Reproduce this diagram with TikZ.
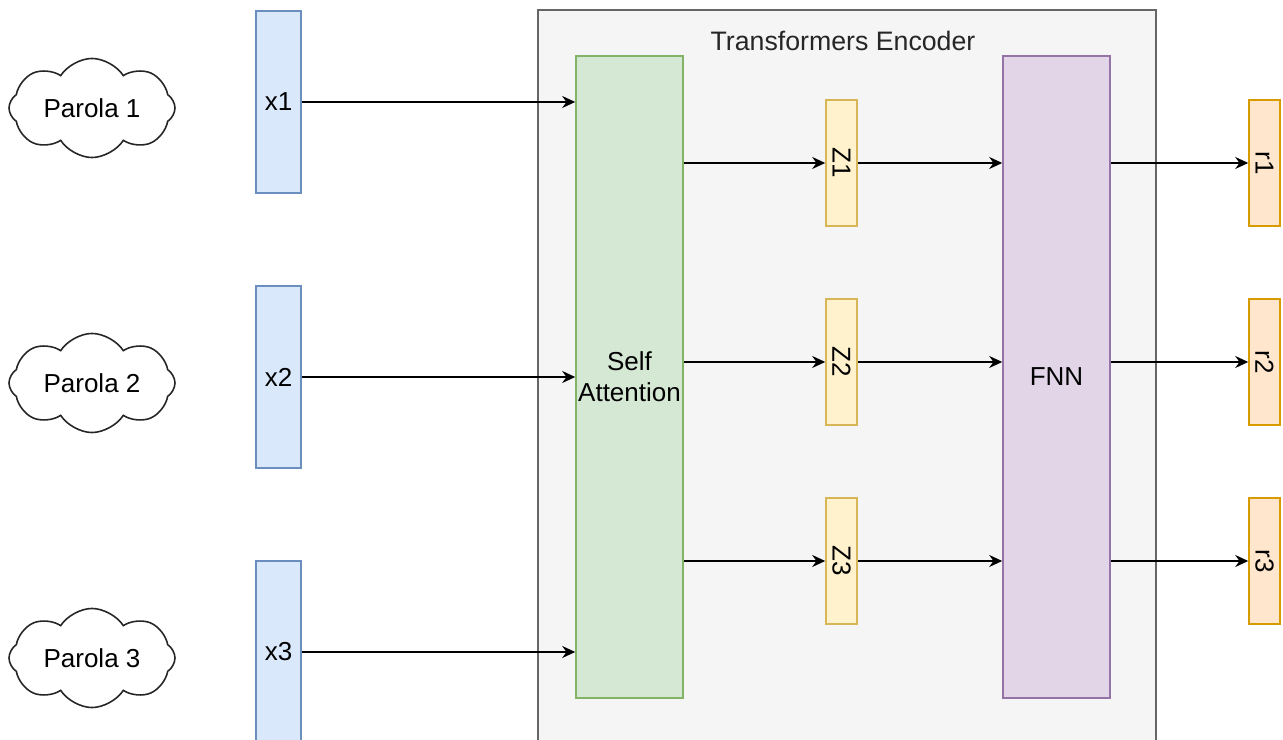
\documentclass[tikz,border=0pt]{standalone}
\usepackage{fontspec}
\setmainfont{Liberation Sans}
\usetikzlibrary{arrows.meta, positioning}
\usetikzlibrary{shapes.symbols}

\definecolor{inblue}{HTML}{DAE8FC}
\definecolor{inblueline}{HTML}{6C8EBF}
\definecolor{encgray}{HTML}{F5F5F5}
\definecolor{encline}{HTML}{666666}
\definecolor{attgreen}{HTML}{D5E8D4}
\definecolor{attline}{HTML}{82B366}
\definecolor{zyellow}{HTML}{FFF2CC}
\definecolor{zline}{HTML}{D6B656}
\definecolor{fnnpurple}{HTML}{E1D5E7}
\definecolor{fnnline}{HTML}{9673A6}
\definecolor{routorange}{HTML}{FFE6CC}
\definecolor{routline}{HTML}{D79B00}
\newcommand\tsize{\fontsize{7.4}{8.8}\selectfont}

\begin{document}
\begin{tikzpicture}[y=-1cm, font=\tsize, line width=0.45pt,
    word/.style={cloud, cloud puffs=8, cloud puff arc=115, aspect=1.8, draw=black!85, fill=white,
                 minimum width=1.66cm, minimum height=0.96cm, inner sep=0pt},
    inbox/.style={rectangle, draw=inblueline, fill=inblue, minimum width=0.45cm, minimum height=1.82cm, inner sep=0pt},
    block/.style={rectangle, minimum width=1.07cm, minimum height=6.42cm, inner sep=0pt, align=center},
    zbox/.style={rectangle, draw=zline, fill=zyellow, minimum width=0.31cm, minimum height=1.26cm, inner sep=0pt},
    rbox/.style={rectangle, draw=routline, fill=routorange, minimum width=0.31cm, minimum height=1.26cm, inner sep=0pt},
    arrow/.style={-{Stealth[length=1.3mm, width=1.2mm]}, black}]

    \clip (0, 0) rectangle (12.83, 7.40);

    % Encoder frame
    \node at (8.47, 4.10) [rectangle, draw=encline, fill=encgray, minimum width=6.18cm, minimum height=8.00cm] (enc) {};
    \node at (8.43, 0.41) [text=black!85, font=\fontsize{7.6}{9}\selectfont] (title) {Transformers Encoder};

    % Words
    \node at (0.92, 1.08) [word] (w1) {Parola 1};
    \node at (0.92, 3.83) [word] (w2) {Parola 2};
    \node at (0.92, 6.58) [word] (w3) {Parola 3};

    % Embeddings
    \node at (2.785, 1.02) [inbox] (x1) {x1};
    \node at (2.785, 3.77) [inbox] (x2) {x2};
    \node at (2.785, 6.52) [inbox] (x3) {x3};

    % Encoder blocks
    \node at (6.295, 3.77) [block, draw=attline, fill=attgreen] (sa) {Self\\Attention};
    \node at (10.565, 3.77) [block, draw=fnnline, fill=fnnpurple] (fnn) {FNN};

    \node at (8.415, 1.63) [zbox] (z1) {\rotatebox{-90}{Z1}};
    \node at (8.415, 3.62) [zbox] (z2) {\rotatebox{-90}{Z2}};
    \node at (8.415, 5.61) [zbox] (z3) {\rotatebox{-90}{Z3}};

    % Outputs
    \node at (12.645, 1.63) [rbox] (r1) {\rotatebox{-90}{r1}};
    \node at (12.645, 3.62) [rbox] (r2) {\rotatebox{-90}{r2}};
    \node at (12.645, 5.61) [rbox] (r3) {\rotatebox{-90}{r3}};

    \draw[arrow] (x1.east) -- (x1.east -| sa.west);
    \draw[arrow] (x2.east) -- (x2.east -| sa.west);
    \draw[arrow] (x3.east) -- (x3.east -| sa.west);

    \draw[arrow] (sa.east |- z1.west) -- (z1.west);
    \draw[arrow] (sa.east |- z2.west) -- (z2.west);
    \draw[arrow] (sa.east |- z3.west) -- (z3.west);

    \draw[arrow] (z1.east) -- (z1.east -| fnn.west);
    \draw[arrow] (z2.east) -- (z2.east -| fnn.west);
    \draw[arrow] (z3.east) -- (z3.east -| fnn.west);

    \draw[arrow] (fnn.east |- r1.west) -- (r1.west);
    \draw[arrow] (fnn.east |- r2.west) -- (r2.west);
    \draw[arrow] (fnn.east |- r3.west) -- (r3.west);
\end{tikzpicture}
\end{document}
